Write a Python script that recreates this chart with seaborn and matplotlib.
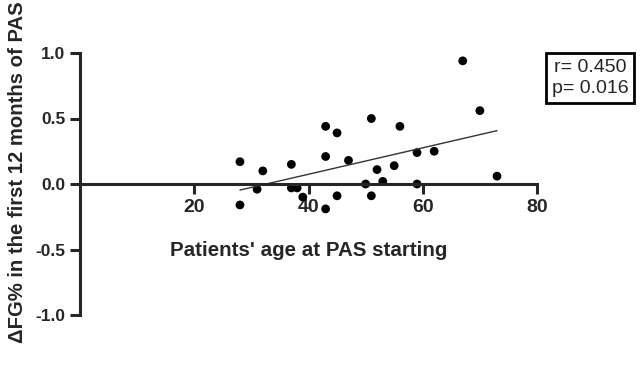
import numpy as np
import pandas as pd
import matplotlib
matplotlib.use("Agg")
import matplotlib.pyplot as plt
import seaborn as sns

# Patients' age at PAS start and change in FG% over the first 12 months
age = [67, 70, 51, 56, 43, 45, 43, 47, 28, 37, 59, 62, 32, 52, 55, 73,
       50, 53, 59, 31, 37, 38, 39, 45, 51, 28, 43]
delta_fg = [0.94, 0.56, 0.50, 0.44, 0.44, 0.39, 0.21, 0.18, 0.17, 0.15, 0.24, 0.25,
            0.10, 0.11, 0.14, 0.06, 0.00, 0.02, 0.00, -0.04, -0.03, -0.03, -0.10,
            -0.09, -0.09, -0.16, -0.19]

x_ticks = [20, 40, 60, 80]
y_ticks = [-1.0, -0.5, 0.0, 0.5, 1.0]
stats_text = "r= 0.450\np= 0.016"

df = pd.DataFrame({"age": age, "dfg": delta_fg})

sns.set_style("ticks")
plt.rcParams['font.family'] = ['Liberation Sans', 'DejaVu Sans']

fig = plt.figure(figsize=(6.44, 3.69), dpi=100)
ax = fig.add_axes([80 / 644, 1 - 315 / 369, 457 / 644, 262 / 369])

sns.regplot(
    data=df, x="age", y="dfg", ci=None, ax=ax,
    scatter_kws={"s": 40, "color": "black", "edgecolor": "none", "alpha": 1},
    line_kws={"color": "#333333", "linewidth": 1.0},
)

ax.set_xlim(0, 80)
ax.set_ylim(-1.0, 1.0)
ax.set_xticks(x_ticks)
ax.set_yticks(y_ticks)
ax.set_yticklabels([f"{v:.1f}" for v in y_ticks])

# x axis passes through y=0
ax.spines["right"].set_visible(False)
ax.spines["top"].set_visible(False)
ax.spines["bottom"].set_position(("data", 0))
for s in ("left", "bottom"):
    ax.spines[s].set_linewidth(2.2)
ax.tick_params(width=2.2, length=7, direction="out")
ax.tick_params(axis="y", labelsize=12.5)
ax.tick_params(axis="x", labelsize=14)
for lbl in ax.get_xticklabels() + ax.get_yticklabels():
    lbl.set_fontweight("bold")

ax.set_xlabel("Patients' age at PAS starting", fontsize=14.8, fontweight="bold")
ax.xaxis.set_label_coords(0.5, 0.248)
ax.xaxis.label.set_va("center")

ax.set_ylabel("ΔFG% in the first 12 months of PAS", fontsize=14.6, fontweight="bold")
ax.yaxis.set_label_coords(-0.136, 0.546)
ax.yaxis.label.set_va("center")
ax.yaxis.label.set_ha("center")

fig.text(590 / 644, 1 - 78 / 369, stats_text, fontsize=14, ha="center", va="center",
         linespacing=1.3,
         bbox=dict(boxstyle="square,pad=0.3", facecolor="white", edgecolor="black", linewidth=2))

fig.savefig("out.png", dpi=100)
